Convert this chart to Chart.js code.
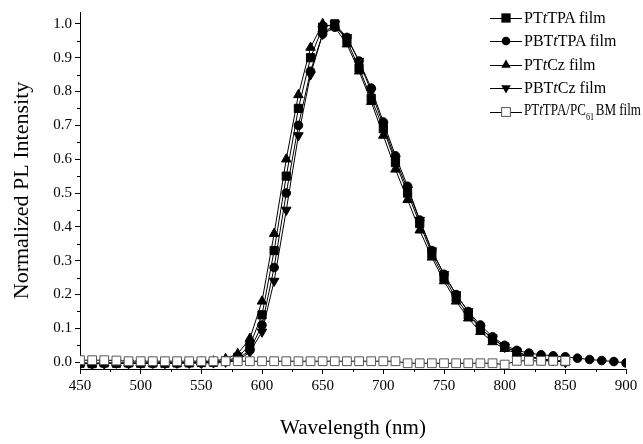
<!DOCTYPE html>
<html>
<head>
<meta charset="utf-8">
<script src="https://cdn.jsdelivr.net/npm/chart.js@4.4.0/dist/chart.umd.min.js"></script>
<style>
  body { margin: 0; background: #fff; }
  #wrap { position: relative; width: 643px; height: 444px; overflow: hidden; }
  #legenda { position: absolute; left: 490px; top: 6px; font-family: 'Liberation Serif', 'Times New Roman', serif; font-size: 16px; color: #000; }
  .item { display: flex; align-items: center; height: 23.5px; white-space: nowrap; }
  .item svg { margin-right: 1px; flex: none; }
  .item span { display: inline-block; transform-origin: left center; }
  sub { font-size: 10px; vertical-align: -5px; margin-right: 2px; }
</style>
</head>
<body>
<div id="wrap">
  <canvas id="grafico" width="643" height="444"></canvas>
  <div id="legenda"></div>
</div>
<script>
// comprimentos de onda (nm)
const lambda = [450, 460, 470, 480, 490, 500, 510, 520, 530, 540, 550, 560, 570, 580, 590, 600,
  610, 620, 630, 640, 650, 660, 670, 680, 690, 700, 710, 720, 730, 740, 750, 760, 770, 780,
  790, 800, 810, 820, 830, 840, 850];
const lambdaLongo = lambda.concat([860, 870, 880, 890, 900]);

// intensidades normalizadas
const ptTPA = [-0.003, -0.004, -0.002, -0.003, -0.002, -0.003, -0.002, -0.003, -0.002, -0.002, -0.001, 0.0, 0.004,
  0.015, 0.05, 0.14, 0.33, 0.55, 0.75, 0.9, 0.99, 1.0, 0.95, 0.87, 0.78, 0.69, 0.59, 0.5, 0.41,
  0.32, 0.25, 0.19, 0.14, 0.1, 0.07, 0.045, 0.03, 0.018, 0.01, 0.005, 0.002];
const pbtTPA = [-0.004, -0.005, -0.004, -0.003, -0.004, -0.003, -0.004, -0.003, -0.003, -0.002, -0.002, -0.001, 0.002,
  0.01, 0.035, 0.11, 0.28, 0.5, 0.7, 0.86, 0.97, 0.99, 0.96, 0.89, 0.81, 0.71, 0.61, 0.52, 0.42,
  0.33, 0.26, 0.2, 0.15, 0.11, 0.075, 0.05, 0.035, 0.027, 0.022, 0.019, 0.016, 0.012, 0.008, 0.005, 0.002, -0.002];
const ptCz = [-0.002, -0.003, -0.002, -0.002, -0.003, -0.002, -0.002, -0.001, -0.002, -0.001, 0.0, 0.003, 0.01,
  0.025, 0.07, 0.18, 0.38, 0.6, 0.79, 0.93, 1.0, 0.99, 0.94, 0.86, 0.77, 0.67, 0.57, 0.48, 0.39,
  0.31, 0.24, 0.18, 0.13, 0.09, 0.06, 0.04, 0.025, 0.015, 0.008, 0.004, 0.0];
const pbtCz = [-0.003, -0.003, -0.004, -0.002, -0.003, -0.003, -0.002, -0.003, -0.002, -0.002, -0.002, -0.001, 0.001,
  0.005, 0.03, 0.09, 0.24, 0.45, 0.67, 0.85, 0.97, 1.0, 0.96, 0.89, 0.8, 0.7, 0.6, 0.51, 0.42,
  0.33, 0.26, 0.2, 0.15, 0.1, 0.07, 0.045, 0.03, 0.018, 0.01, 0.005, 0.0];
const ptTPA_PCBM = [0.006, 0.006, 0.006, 0.005, 0.003, 0.003, 0.003, 0.003, 0.003, 0.003, 0.003, 0.003, 0.003,
  0.003, 0.003, 0.003, 0.003, 0.003, 0.003, 0.003, 0.003, 0.003, 0.003, 0.003, 0.003, 0.003, 0.003, -0.003, -0.003,
  -0.003, -0.003, -0.003, -0.003, -0.003, -0.003, -0.007, 0.004, 0.004, 0.004, 0.004, 0.004];

// marcas dos eixos
const xTicks = [450, 500, 550, 600, 650, 700, 750, 800, 850, 900];
const xMinor = [475, 525, 575, 625, 675, 725, 775, 825, 875];
const yTicks = [0.0, 0.1, 0.2, 0.3, 0.4, 0.5, 0.6, 0.7, 0.8, 0.9, 1.0];
const yMinor = [0.05, 0.15, 0.25, 0.35, 0.45, 0.55, 0.65, 0.75, 0.85, 0.95];

const fonte = "'Liberation Serif', 'Times New Roman', serif";

function pontos(xs, ys) {
  return ys.map((v, i) => ({ x: xs[i], y: v }));
}

const series = [
  { label: 'PT<i>t</i>TPA film', data: pontos(lambda, ptTPA), estilo: 'rect', raio: 5.8, fundo: '#000', borda: '#000', rot: 0 },
  { label: 'PBT<i>t</i>TPA film', data: pontos(lambdaLongo, pbtTPA), estilo: 'circle', raio: 4.3, fundo: '#000', borda: '#000', rot: 0 },
  { label: 'PT<i>t</i>Cz film', data: pontos(lambda, ptCz), estilo: 'triangle', raio: 5.5, fundo: '#000', borda: '#000', rot: 0 },
  { label: 'PBT<i>t</i>Cz film', data: pontos(lambda, pbtCz), estilo: 'triangle', raio: 5.5, fundo: '#000', borda: '#000', rot: 180 },
  { label: 'PT<i>t</i>TPA/PC<sub>61</sub>BM film', data: pontos(lambda, ptTPA_PCBM), estilo: 'rect', raio: 6.2, fundo: '#fff', borda: '#555', rot: 0 }
];

// traços menores dos eixos
const tracosMenores = {
  id: 'tracosMenores',
  afterDraw(chart) {
    const { ctx, scales: { x, y } } = chart;
    ctx.save();
    ctx.strokeStyle = '#000';
    ctx.lineWidth = 1;
    ctx.beginPath();
    xMinor.forEach(v => {
      const px = Math.round(x.getPixelForValue(v)) + 0.5;
      ctx.moveTo(px, x.top);
      ctx.lineTo(px, x.top + 3);
    });
    yMinor.forEach(v => {
      const py = Math.round(y.getPixelForValue(v)) + 0.5;
      ctx.moveTo(y.right, py);
      ctx.lineTo(y.right - 3, py);
    });
    ctx.stroke();
    ctx.restore();
  }
};

new Chart(document.getElementById('grafico'), {
  type: 'scatter',
  data: {
    datasets: series.map((s, i) => ({
      label: s.label,
      data: s.data,
      showLine: true,
      borderColor: '#000',
      borderWidth: 1,
      pointStyle: s.estilo,
      pointRadius: s.raio,
      pointRotation: s.rot,
      pointBackgroundColor: s.fundo,
      pointBorderColor: s.borda,
      pointBorderWidth: 1,
      order: i === 4 ? -1 : i
    }))
  },
  options: {
    responsive: false,
    animation: false,
    layout: { padding: { top: 8, right: 17, left: 0, bottom: 0 } },
    plugins: { legend: { display: false }, tooltip: { enabled: false } },
    scales: {
      x: {
        type: 'linear',
        min: 450,
        max: 900,
        afterBuildTicks: (scale) => { scale.ticks = xTicks.map(v => ({ value: v })); },
        afterFit: (scale) => { scale.height = 75; },
        ticks: { color: '#000', font: { family: fonte, size: 15 }, padding: 3, maxRotation: 0 },
        grid: { drawOnChartArea: false, drawTicks: true, tickLength: 5, tickColor: '#000' },
        border: { color: '#000', width: 1 },
        title: { display: true, text: 'Wavelength (nm)', color: '#000', font: { family: fonte, size: 21 }, padding: { top: 0, bottom: 3 } }
      },
      y: {
        type: 'linear',
        min: -0.02,
        max: 1.035,
        afterBuildTicks: (scale) => { scale.ticks = yTicks.map(v => ({ value: v })); },
        afterFit: (scale) => { scale.width = 80; },
        ticks: { color: '#000', font: { family: fonte, size: 15 }, padding: 3, callback: (v) => v.toFixed(1) },
        grid: { drawOnChartArea: false, drawTicks: true, tickLength: 5, tickColor: '#000' },
        border: { color: '#000', width: 1 },
        title: { display: true, text: 'Normalized PL Intensity', color: '#000', font: { family: fonte, size: 22 }, padding: { top: 9, bottom: 0 } }
      }
    }
  },
  plugins: [tracosMenores]
});

// legenda em HTML para permitir itálico e subscrito
function marcador(s) {
  const c = 16, m = 7;
  let forma = '';
  if (s.estilo === 'rect') {
    const l = s.raio * 1.414;
    forma = `<rect x="${c - l / 2}" y="${m - l / 2}" width="${l}" height="${l}" fill="${s.fundo}" stroke="${s.borda}"/>`;
  } else if (s.estilo === 'circle') {
    forma = `<circle cx="${c}" cy="${m}" r="${s.raio}" fill="#000"/>`;
  } else {
    const r = s.raio, d = s.rot ? -1 : 1;
    forma = `<polygon points="${c},${m - d * r} ${c - r * 0.866},${m + d * r / 2} ${c + r * 0.866},${m + d * r / 2}" fill="#000"/>`;
  }
  return `<svg width="33" height="14"><line x1="0" y1="${m + 0.5}" x2="32" y2="${m + 0.5}" stroke="#000"/>${forma}</svg>`;
}

const legenda = document.getElementById('legenda');
legenda.innerHTML = series.map(s =>
  `<div class="item">${marcador(s)}<span>${s.label}</span></div>`).join('');

// a última entrada é comprimida para caber até a borda, como no original
const ultima = legenda.lastElementChild.querySelector('span');
const larg = ultima.getBoundingClientRect().width;
if (larg > 117) ultima.style.transform = `scaleX(${117 / larg})`;
</script>
</body>
</html>
